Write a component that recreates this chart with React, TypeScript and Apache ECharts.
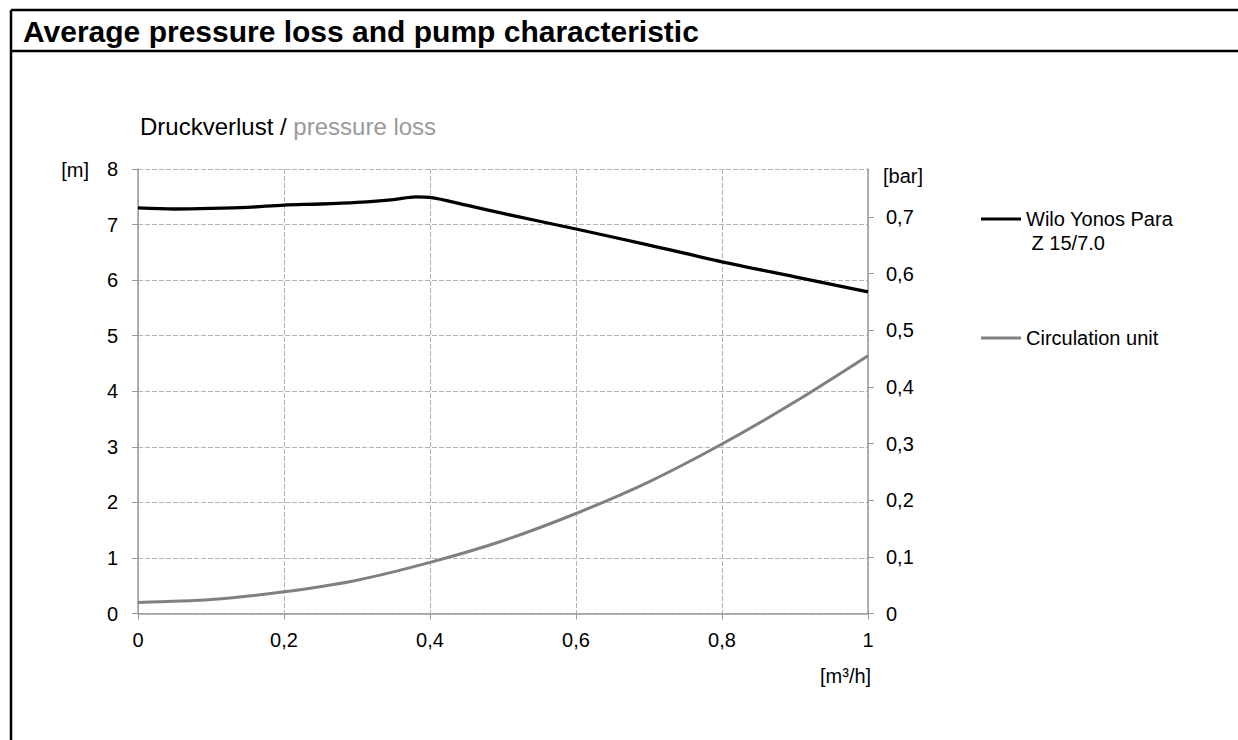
import React, { useEffect, useRef } from 'react';
import * as echarts from 'echarts';

const FONT = "'Liberation Sans', Arial, Helvetica, sans-serif";

const titleText = 'Average pressure loss and pump characteristic';
const subtitleBlack = 'Druckverlust / ';
const subtitleGray = 'pressure loss';
const unitLeft = '[m]';
const unitRight = '[bar]';
const unitX = '[m³/h]';

const pumpName = 'Wilo Yonos Para\n Z 15/7.0';
const unitName = 'Circulation unit';

// pump characteristic (head in m over flow in m³/h)
const pumpFlow = [0, 0.05, 0.1, 0.15, 0.2, 0.25, 0.3, 0.35, 0.38, 0.4, 0.45, 0.5, 0.6, 0.7, 0.8, 0.9, 1.0];
const pumpHead = [7.3, 7.28, 7.29, 7.31, 7.35, 7.37, 7.4, 7.45, 7.5, 7.49, 7.35, 7.2, 6.92, 6.63, 6.33, 6.06, 5.79];

// circulation unit pressure loss (m over m³/h)
const unitFlow = [0, 0.1, 0.2, 0.3, 0.4, 0.5, 0.6, 0.7, 0.8, 0.9, 1.0];
const unitLoss = [0.2, 0.25, 0.39, 0.6, 0.92, 1.31, 1.8, 2.37, 3.05, 3.81, 4.64];

const barTicks = [0, 0.1, 0.2, 0.3, 0.4, 0.5, 0.6, 0.7];
const M_PER_BAR = 10.197;
const Y_MAX_M = 8;

const comma = (v: number) => String(Math.round(v * 1000) / 1000).replace('.', ',');

export default function App() {
  const ref = useRef<HTMLDivElement>(null);
  useEffect(() => {
    document.body.style.margin = '0';
    const chart = echarts.init(ref.current!, null, { renderer: 'svg' });
    const axisGray = '#9a9a9a';
    const gridGray = '#b4b4b4';
    chart.setOption({
      animation: false,
      backgroundColor: '#fff',
      textStyle: { fontFamily: FONT },
      grid: { left: 138, right: 370, top: 169, bottom: 126.5 },
      legend: {
        orient: 'vertical',
        left: 976,
        top: 178,
        itemGap: 71,
        itemWidth: 40,
        itemHeight: 3,
        icon: 'rect',
        data: [pumpName, unitName],
        formatter: (n: string) => (n === pumpName ? ' \n' + n : n),
        textStyle: { fontFamily: FONT, fontSize: 20, color: '#000', lineHeight: 24 },
      },
      xAxis: {
        type: 'value',
        min: 0,
        max: 1,
        interval: 0.2,
        axisLine: { show: true, lineStyle: { color: axisGray, width: 1.5 } },
        axisTick: { show: true, length: 6, lineStyle: { color: axisGray } },
        axisLabel: { fontSize: 20, color: '#000', margin: 16, fontFamily: FONT, formatter: comma },
        splitLine: { show: true, lineStyle: { color: gridGray, type: [5, 2], width: 1 } },
      },
      yAxis: [
        {
          type: 'value',
          min: 0,
          max: Y_MAX_M,
          interval: 1,
          axisLine: { show: true, lineStyle: { color: axisGray, width: 1.5 } },
          axisTick: { show: true, length: 6, lineStyle: { color: axisGray } },
          axisLabel: { fontSize: 20, color: '#000', margin: 20, fontFamily: FONT },
          splitLine: { show: true, lineStyle: { color: gridGray, type: [5, 2], width: 1 } },
        },
        {
          type: 'value',
          position: 'right',
          min: 0,
          max: Y_MAX_M / M_PER_BAR,
          interval: 0.1,
          axisLine: { show: true, lineStyle: { color: axisGray, width: 1.5 } },
          axisTick: { show: true, length: 6, lineStyle: { color: axisGray }, customValues: barTicks },
          axisLabel: {
            fontSize: 20,
            color: '#000',
            margin: 18,
            fontFamily: FONT,
            customValues: barTicks,
            formatter: comma,
          },
          splitLine: { show: false },
        },
      ],
      series: [
        {
          name: pumpName,
          type: 'line',
          data: pumpFlow.map((x, i) => [x, pumpHead[i]]),
          smooth: 0.3,
          symbol: 'none',
          lineStyle: { color: '#000', width: 3.3 },
          itemStyle: { color: '#000' },
        },
        {
          name: unitName,
          type: 'line',
          data: unitFlow.map((x, i) => [x, unitLoss[i]]),
          smooth: 0.3,
          symbol: 'none',
          lineStyle: { color: '#808080', width: 3 },
          itemStyle: { color: '#808080' },
        },
      ],
      graphic: [
        { type: 'line', shape: { x1: 11, y1: 10, x2: 1245, y2: 10 }, style: { stroke: '#000', lineWidth: 2.5 } },
        { type: 'line', shape: { x1: 11, y1: 51, x2: 1245, y2: 51 }, style: { stroke: '#000', lineWidth: 2.5 } },
        { type: 'line', shape: { x1: 11, y1: 10, x2: 11, y2: 745 }, style: { stroke: '#000', lineWidth: 2.5 } },
        {
          type: 'text',
          x: 23,
          y: 31,
          style: { text: titleText, font: `bold 30px ${FONT}`, fill: '#000', verticalAlign: 'middle' },
        },
        {
          type: 'text',
          left: 140,
          top: 114,
          style: {
            text: `{a|${subtitleBlack}}{b|${subtitleGray}}`,
            rich: {
              a: { fontSize: 24, fontFamily: FONT, fill: '#000', color: '#000' },
              b: { fontSize: 24, fontFamily: FONT, fill: '#9a9a9a', color: '#9a9a9a' },
            },
          },
        },
        {
          type: 'text',
          x: 89,
          y: 170,
          style: { text: unitLeft, font: `20px ${FONT}`, fill: '#000', align: 'right', verticalAlign: 'middle' },
        },
        {
          type: 'text',
          x: 883,
          y: 176,
          style: { text: unitRight, font: `20px ${FONT}`, fill: '#000', align: 'left', verticalAlign: 'middle' },
        },
        {
          type: 'text',
          x: 820,
          y: 676,
          style: { text: unitX, font: `20px ${FONT}`, fill: '#000', align: 'left', verticalAlign: 'middle' },
        },
      ],
    });
    return () => chart.dispose();
  }, []);
  return <div ref={ref} style={{ width: 1238, height: 740 }} />;
}
